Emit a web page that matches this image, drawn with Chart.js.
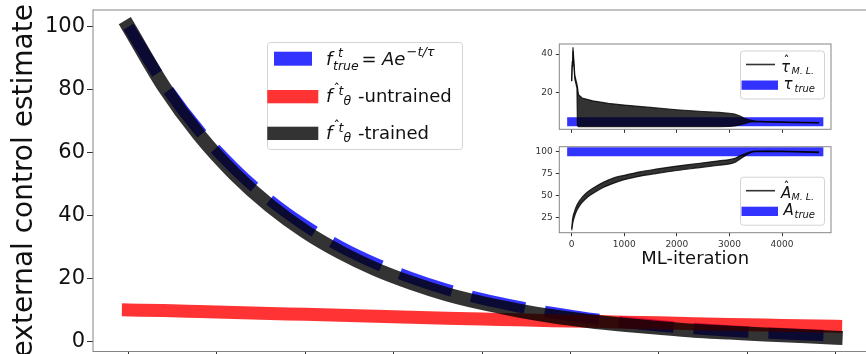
<!DOCTYPE html>
<html>
<head>
<meta charset="utf-8">
<title>external control estimate</title>
<script src="https://cdn.jsdelivr.net/npm/chart.js@4.4.1/dist/chart.umd.min.js"></script>
<style>
  html, body { margin: 0; padding: 0; background: #fff; overflow: hidden; width: 866px; height: 354px; }
  canvas { position: absolute; }
  #main { left: 0; top: 0; }
  #tau { left: 520px; top: 30px; }
  #amp { left: 520px; top: 135px; }
</style>
</head>
<body>
<canvas id="main" width="880" height="354"></canvas>
<canvas id="tau" width="346" height="105"></canvas>
<canvas id="amp" width="346" height="140"></canvas>
<script>
// ---- main panel: exponential decay vs. network output ----
const tVals          = [0, 1, 2, 3, 4, 5, 6, 7, 8, 9, 10, 11, 12, 13, 14, 15, 16, 17, 18, 19, 20];
const trueVals       = [100, 81.9, 67.0, 54.9, 44.9, 36.8, 30.1, 24.7, 20.2, 16.5, 13.5, 11.1, 9.1, 7.4, 6.1, 5.0, 4.1, 3.3, 2.7, 2.2, 1.8];
const untrainedVals  = [10.0, 9.8, 9.5, 9.2, 8.9, 8.6, 8.3, 8.0, 7.7, 7.4, 7.1, 6.9, 6.6, 6.4, 6.1, 5.9, 5.6, 5.4, 5.2, 5.0, 4.8];
const trainedVals    = [100, 81.0, 65.6, 53.2, 43.1, 34.9, 28.3, 22.9, 18.6, 15.0, 12.2, 9.9, 8.0, 6.5, 5.3, 4.3, 3.4, 2.8, 2.2, 1.7, 1.2];
const mainXTicks     = [0, 2.5, 5, 7.5, 10, 12.5, 15, 17.5, 20];
const mainYTicks     = [0, 20, 40, 60, 80, 100];

// ---- inset 1: fitted tau over training iterations (oscillation envelope) ----
const tauIters = [0, 10, 25, 60, 100, 110, 130, 200, 400, 700, 1000, 1500, 2000, 2500, 2800, 3000, 3100, 3200, 3300, 3400, 3500, 3700, 4200, 4700];
const tauHi    = [26, 36, 43.5, 29, 24.5, 23, 19, 17.3, 15.8, 14.5, 13.6, 12.4, 11.2, 10.3, 9.8, 9.4, 9.0, 8.0, 6.6, 5.8, 5.3, 5.1, 4.8, 4.6];
const tauLo    = [26, 34, 41.5, 27, 22.5, 3.0, 2.5, 2.5, 2.5, 2.5, 2.5, 2.5, 2.5, 2.5, 2.5, 2.6, 2.8, 3.4, 4.2, 4.9, 5.0, 4.9, 4.6, 4.4];
const tauTicks = [20, 40];

// ---- inset 2: fitted amplitude over training iterations ----
const ampIters = [0, 20, 50, 100, 150, 200, 300, 450, 600, 800, 1000, 1300, 1600, 2000, 2400, 2800, 3000, 3100, 3200, 3300, 3400, 3500, 3700, 4000, 4400, 4700];
const ampHi    = [12, 24, 31, 39, 44, 48, 54, 60, 65, 70, 73, 77, 80, 83.5, 86.5, 89.5, 91, 92.3, 95.3, 97.6, 99.8, 100.7, 100.9, 100.7, 100.2, 99.7];
const ampLo    = [10, 18, 25, 33, 38, 42, 48, 54, 59, 64, 68, 72, 75, 78.5, 81.5, 84.5, 86, 87.7, 91.5, 95.4, 98.8, 99.9, 100.1, 99.9, 99.4, 98.9];
const ampTicks = [25, 50, 75, 100];

// reference values (tau_true, A_true) drawn as thick bands
const refIters    = [0, 4700];
const tauTrueVals = [5, 5];
const ampTrueVals = [100, 100];
const iterTicks   = [0, 1000, 2000, 3000, 4000];

const BLUE  = 'rgba(0,0,255,0.8)';
const RED   = 'rgba(255,0,0,0.8)';
const BLACK = 'rgba(0,0,0,0.8)';
const FONT  = '"DejaVu Sans"';

Chart.defaults.font.family = FONT;

const pts = (xs, ys) => xs.map((x, i) => ({ x: x, y: ys[i] }));
const fixedTicks = list => scale => { scale.ticks = list.map(v => ({ value: v })); };
const plain = v => String(v);

// force an axis to an exact thickness and stop it from padding the chart area
function fixSize(prop, px) {
  return s => {
    s[prop] = px;
    s.paddingTop = 0; s.paddingBottom = 0; s.paddingLeft = 0; s.paddingRight = 0;
  };
}

function txt(ctx, s, x, y, size, italic) {
  ctx.font = (italic ? 'italic ' : '') + size + 'px ' + FONT;
  ctx.fillStyle = '#111';
  ctx.fillText(s, x, y);
}

function legendBox(ctx, x, y, w, h) {
  ctx.beginPath();
  ctx.roundRect(x + 0.5, y + 0.5, w, h, 3);
  ctx.fillStyle = 'rgba(255,255,255,0.8)';
  ctx.fill();
  ctx.strokeStyle = '#d4d4d4';
  ctx.lineWidth = 1;
  ctx.stroke();
}

// white axes face + grey frame
const frame = {
  id: 'frame',
  beforeDatasetsDraw(chart) {
    const a = chart.chartArea, ctx = chart.ctx;
    ctx.save();
    ctx.fillStyle = '#fff';
    ctx.fillRect(a.left, a.top, a.right - a.left, a.bottom - a.top);
    ctx.restore();
  },
  afterDatasetsDraw(chart) {
    const a = chart.chartArea, ctx = chart.ctx;
    ctx.save();
    ctx.strokeStyle = '#858585';
    ctx.lineWidth = 1;
    ctx.strokeRect(a.left, a.top, a.right - a.left, a.bottom - a.top);
    ctx.restore();
  }
};

const mainLegend = {
  id: 'mainLegend',
  afterDraw(chart) {
    const ctx = chart.ctx;
    ctx.save();
    ctx.textBaseline = 'alphabetic';
    legendBox(ctx, 267, 42, 195, 107);

    ctx.fillStyle = BLUE;
    ctx.fillRect(274, 51.7, 38, 14);
    txt(ctx, 'f', 326, 65, 18, true);
    txt(ctx, 't', 338, 56.5, 12.5, true);
    txt(ctx, 'true', 333, 69.5, 12.5, true);
    txt(ctx, '=', 361.5, 65, 18, false);
    txt(ctx, 'Ae', 382, 65, 18, true);
    txt(ctx, '\u2212t/\u03c4', 406.5, 56, 13, true);

    [[RED, 102.3, '-untrained'], [BLACK, 139, '-trained']].forEach(([c, b, label]) => {
      ctx.fillStyle = c;
      ctx.fillRect(267.3, b - 12.3, 51, 13.3);
      txt(ctx, 'f', 326, b, 18, true);
      txt(ctx, '\u02c6', 333.5, b - 9.5, 13, false);
      txt(ctx, 't', 338.5, b - 7.3, 12.5, true);
      txt(ctx, '\u03b8', 343.5, b + 3, 12.5, true);
      txt(ctx, label, 358, b, 18, false);
    });
    ctx.restore();
  }
};

function insetLegend(ox, oy, top, sym) {
  return {
    id: 'insetLegend',
    afterDraw(chart) {
      const ctx = chart.ctx;
      ctx.save();
      ctx.translate(-ox, -oy);
      ctx.textBaseline = 'alphabetic';
      legendBox(ctx, 740, top, 84, 48);
      // fitted estimate: thin black line
      ctx.strokeStyle = BLACK;
      ctx.lineWidth = 1.6;
      ctx.beginPath();
      ctx.moveTo(746, top + 14);
      ctx.lineTo(775, top + 14);
      ctx.stroke();
      txt(ctx, sym, 781, top + 21.5, 15, true);
      txt(ctx, '\u02c6', 783.5, top + 14.5, 12, false);
      txt(ctx, 'M. L.', 791.5, top + 23, 9.5, true);
      // true value: blue patch
      ctx.fillStyle = BLUE;
      ctx.fillRect(741.5, top + 30, 36.5, 9.3);
      txt(ctx, sym, 783.5, top + 38.5, 15, true);
      txt(ctx, 'true', 794.5, top + 41, 10, true);
      ctx.restore();
    }
  };
}

const baseOpts = {
  responsive: false,
  animation: false,
  events: [],
  plugins: { legend: { display: false }, tooltip: { enabled: false } },
  elements: { point: { radius: 0 } }
};

// ---- main chart ----
new Chart(document.getElementById('main'), {
  type: 'line',
  data: {
    datasets: [
      { data: pts(tVals, trueVals), borderColor: BLUE, borderWidth: 11.5, borderDash: [55, 20],
        borderCapStyle: 'butt', cubicInterpolationMode: 'monotone', order: 3 },
      { data: pts(tVals, untrainedVals), borderColor: RED, borderWidth: 13,
        borderCapStyle: 'square', cubicInterpolationMode: 'monotone', order: 2 },
      { data: pts(tVals, trainedVals), borderColor: BLACK, borderWidth: 14,
        borderCapStyle: 'square', cubicInterpolationMode: 'monotone', order: 1 }
    ]
  },
  options: {
    ...baseOpts,
    layout: { padding: { top: 10, right: 9, left: 0, bottom: 0 } },
    scales: {
      x: {
        type: 'linear', min: -1, max: 21,
        afterBuildTicks: fixedTicks(mainXTicks),
        afterFit: fixSize('height', 2.5),
        ticks: { display: false },
        border: { display: false },
        grid: { drawOnChartArea: false, tickLength: 6, color: '#333' }
      },
      y: {
        type: 'linear', min: -3.2, max: 105.3,
        afterBuildTicks: fixedTicks(mainYTicks),
        afterFit: fixSize('width', 93),
        ticks: { font: { size: 21 }, color: '#111', padding: 2, callback: plain },
        border: { display: false },
        grid: { drawOnChartArea: false, tickLength: 6, color: '#333' },
        title: { display: true, text: 'external control estimate', color: '#111',
                 font: { size: 28 }, padding: { top: 8, bottom: 0 } }
      }
    }
  },
  plugins: [frame, mainLegend]
});

// ---- inset axes shared settings ----
function insetScales(yMin, yMax, yTicks, xOpts) {
  return {
    x: Object.assign({
      type: 'linear', min: -235, max: 4931,
      afterBuildTicks: fixedTicks(iterTicks),
      border: { display: false },
      grid: { drawOnChartArea: false, tickLength: 3.5, color: '#333' }
    }, xOpts),
    y: {
      type: 'linear', min: yMin, max: yMax,
      afterBuildTicks: fixedTicks(yTicks),
      afterFit: fixSize('width', 39.3),
      ticks: { font: { size: 9 }, color: '#333', padding: 3, callback: plain },
      border: { display: false },
      grid: { drawOnChartArea: false, tickLength: 3.5, color: '#333' }
    }
  };
}

new Chart(document.getElementById('tau'), {
  type: 'line',
  data: {
    datasets: [
      { data: pts(refIters, tauTrueVals), borderColor: BLUE, borderWidth: 9, borderCapStyle: 'square', order: 2 },
      { data: pts(tauIters, tauHi), borderColor: BLACK, borderWidth: 1.2, order: 1 },
      { data: pts(tauIters, tauLo), borderColor: BLACK, borderWidth: 1.2, order: 1,
        fill: '-1', backgroundColor: BLACK }
    ]
  },
  options: {
    ...baseOpts,
    layout: { padding: { top: 14, right: 35, left: 0, bottom: 0 } },
    scales: insetScales(1.1, 45.2, tauTicks, {
      afterFit: fixSize('height', 5.7),
      ticks: { display: false }
    })
  },
  plugins: [frame, insetLegend(520, 30, 50.5, '\u03c4')]
});

new Chart(document.getElementById('amp'), {
  type: 'line',
  data: {
    datasets: [
      { data: pts(refIters, ampTrueVals), borderColor: BLUE, borderWidth: 9, borderCapStyle: 'square', order: 2 },
      { data: pts(ampIters, ampHi), borderColor: BLACK, borderWidth: 1.2, cubicInterpolationMode: 'monotone', order: 1 },
      { data: pts(ampIters, ampLo), borderColor: BLACK, borderWidth: 1.2, cubicInterpolationMode: 'monotone', order: 1,
        fill: '-1', backgroundColor: BLACK }
    ]
  },
  options: {
    ...baseOpts,
    layout: { padding: { top: 11.7, right: 35, left: 0, bottom: 0 } },
    scales: insetScales(7.4, 105.7, ampTicks, {
      afterFit: fixSize('height', 42.3),
      ticks: { font: { size: 9 }, color: '#333', padding: 3, maxRotation: 0, callback: plain },
      title: { display: true, text: 'ML-iteration', color: '#111', font: { size: 18 },
               padding: { top: 0, bottom: 4.7 } }
    })
  },
  plugins: [frame, insetLegend(520, 135, 176.7, 'A')]
});
</script>
</body>
</html>
